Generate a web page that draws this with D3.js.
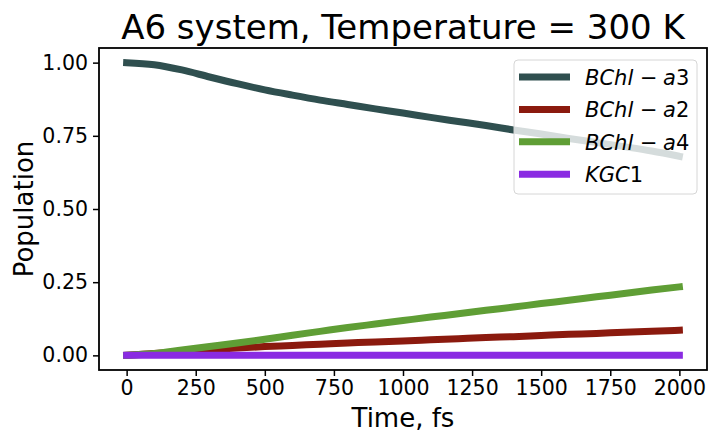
<!DOCTYPE html>
<html>
<head>
<meta charset="utf-8">
<script src="https://cdn.jsdelivr.net/npm/d3@7"></script>
<style>
  html, body { margin: 0; padding: 0; background: #fff; }
  svg { display: block; font-family: "DejaVu Sans", sans-serif; }
</style>
</head>
<body>
<svg id="chart" width="711" height="430"></svg>
<script>
// population dynamics, A6 system at 300 K (every 100 fs)
var times = [0, 100, 200, 300, 400, 500, 600, 700, 800, 900, 1000,
             1100, 1200, 1300, 1400, 1500, 1600, 1700, 1800, 1900, 2000];
var bchlA3 = [1.000, 0.993, 0.975, 0.951, 0.928, 0.907, 0.889, 0.872, 0.857, 0.842, 0.828,
              0.813, 0.799, 0.785, 0.770, 0.756, 0.741, 0.727, 0.713, 0.698, 0.680];
var bchlA2 = [0.000, 0.006, 0.013, 0.019, 0.025, 0.030, 0.034, 0.038, 0.042, 0.046, 0.049,
              0.053, 0.057, 0.061, 0.064, 0.068, 0.072, 0.075, 0.079, 0.082, 0.086];
var bchlA4 = [0.000, 0.006, 0.018, 0.030, 0.042, 0.055, 0.069, 0.082, 0.095, 0.107, 0.119,
              0.131, 0.142, 0.154, 0.165, 0.177, 0.188, 0.200, 0.211, 0.223, 0.234];
var kgc1   = [0, 0, 0, 0, 0, 0, 0, 0, 0, 0, 0, 0, 0, 0, 0, 0, 0, 0, 0, 0, 0];
var xTicks = [0, 250, 500, 750, 1000, 1250, 1500, 1750, 2000];
var yTicks = [0, 0.25, 0.5, 0.75, 1.0];
var series = [
  { name: ["BChl", "a", "3"], values: bchlA3, color: "#2f4f4f" },
  { name: ["BChl", "a", "2"], values: bchlA2, color: "#8b1a0e" },
  { name: ["BChl", "a", "4"], values: bchlA4, color: "#5f9e35" },
  { name: ["KGC", "", "1"],   values: kgc1,   color: "#8a2be2" }
];

(function () {
  "use strict";
  var svg = d3.select("#chart");
  var m = { l: 99, r: 707, t: 48, b: 370 };
  var x = d3.scaleLinear().domain([-100, 2100]).range([m.l, m.r]);
  var y = d3.scaleLinear().domain([-0.05, 1.05]).range([m.b, m.t]);
  var TICK = 20.5, LAB = 26;

  // curves (matplotlib order, later ones on top)
  var line = d3.line().x(function (d) { return x(d[0]); }).y(function (d) { return y(d[1]); })
    .curve(d3.curveMonotoneX);
  series.forEach(function (s) {
    svg.append("path").attr("d", line(times.map(function (t, i) { return [t, s.values[i]]; })))
      .attr("fill", "none").attr("stroke", s.color).attr("stroke-width", 7)
      .attr("stroke-linecap", "square").attr("stroke-linejoin", "round");
  });

  // frame
  svg.append("rect").attr("x", m.l).attr("y", m.t).attr("width", m.r - m.l).attr("height", m.b - m.t)
    .attr("fill", "none").attr("stroke", "#000").attr("stroke-width", 1.8);

  // x axis
  var xa = svg.append("g").attr("transform", "translate(0," + m.b + ")")
    .call(d3.axisBottom(x).tickValues(xTicks).tickFormat(d3.format("d")).tickSize(6).tickPadding(4));
  xa.select(".domain").remove();
  xa.selectAll("line").attr("stroke-width", 1.5);
  xa.selectAll("text").attr("font-size", TICK).attr("font-family", "DejaVu Sans").attr("fill", "#000");

  // y axis
  var ya = svg.append("g").attr("transform", "translate(" + m.l + ",0)")
    .call(d3.axisLeft(y).tickValues(yTicks).tickFormat(d3.format(".2f")).tickSize(6).tickPadding(5));
  ya.select(".domain").remove();
  ya.selectAll("line").attr("stroke-width", 1.5);
  ya.selectAll("text").attr("font-size", TICK).attr("font-family", "DejaVu Sans").attr("fill", "#000");

  // labels + title (x label sits at the bottom edge, as in the original)
  svg.append("text").attr("x", (m.l + m.r) / 2).attr("y", 427).attr("text-anchor", "middle")
    .attr("font-size", LAB).text("Time, fs");
  svg.append("text").attr("transform", "translate(33," + (m.t + m.b) / 2 + ") rotate(-90)")
    .attr("text-anchor", "middle").attr("font-size", LAB).text("Population");
  svg.append("text").attr("x", (m.l + m.r) / 2).attr("y", 39).attr("text-anchor", "middle")
    .attr("font-size", 34).text("A6 system, Temperature = 300 K");

  // legend (upper right, translucent white)
  var lg = svg.append("g");
  lg.append("rect").attr("x", 514).attr("y", 60).attr("width", 183).attr("height", 134)
    .attr("rx", 4).attr("fill", "#fff").attr("fill-opacity", 0.8).attr("stroke", "#d6d6d6").attr("stroke-width", 1);
  series.forEach(function (s, i) {
    var cy = 77 + i * 32.4, tx = 585;
    lg.append("line").attr("x1", 519).attr("x2", 570).attr("y1", cy).attr("y2", cy)
      .attr("stroke", s.color).attr("stroke-width", 7);
    var t = lg.append("text").attr("x", tx).attr("y", cy + 8).attr("font-size", 21);
    t.append("tspan").attr("font-style", "italic").text(s.name[0]);
    if (s.name[1]) {
      t.append("tspan").attr("x", tx + 55).text("\u2212");
      t.append("tspan").attr("x", tx + 78).attr("font-style", "italic").text(s.name[1]);
    }
    t.append("tspan").text(s.name[2]);
  });
})();
</script>
</body>
</html>
